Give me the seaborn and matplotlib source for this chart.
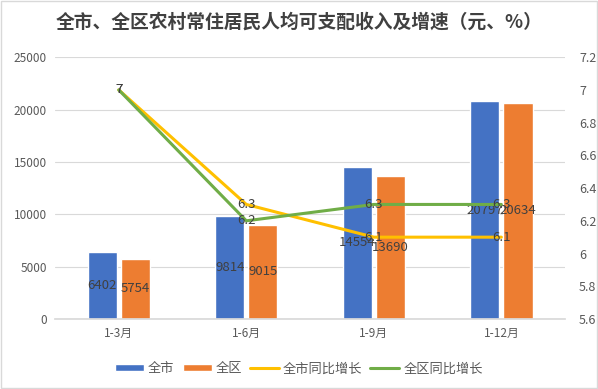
import pandas as pd
import numpy as np
import matplotlib.pyplot as plt
import seaborn as sns
from matplotlib.patches import Rectangle

# data
periods = ['1-3月', '1-6月', '1-9月', '1-12月']
city_income = [6402, 9814, 14554, 20797]
district_income = [5754, 9015, 13690, 20634]
city_growth = [7, 6.3, 6.1, 6.1]
district_growth = [7, 6.2, 6.3, 6.3]
bar_names = ['全市', '全区']
line_names = ['全市同比增长', '全区同比增长']

BLUE, ORANGE, YELLOW, GREEN = '#4472C4', '#ED7D31', '#FFC000', '#70AD47'
TXT = '#595959'

sns.set_theme(style='white')
plt.rcParams['font.family'] = ['Noto Sans CJK SC', 'DejaVu Sans']

df_bar = pd.DataFrame({
    'period': periods * 2,
    'series': [bar_names[0]] * 4 + [bar_names[1]] * 4,
    'value': city_income + district_income,
})
pos = list(range(len(periods)))
df_line = pd.DataFrame({
    'pos': pos * 2,
    'series': [line_names[0]] * 4 + [line_names[1]] * 4,
    'value': city_growth + district_growth,
})

fig = plt.figure(figsize=(5.98, 3.89), dpi=100)
ax = fig.add_axes([0.092, 0.18, 0.853, 0.673])

sns.barplot(data=df_bar, x='period', y='value', hue='series',
            palette=[BLUE, ORANGE], width=0.52, gap=0.12, ax=ax,
            saturation=1, legend=True)
for cont in ax.containers:
    for rect in cont:
        h = rect.get_height()
        ax.text(rect.get_x() + rect.get_width() / 2, h / 2, f'{h:.0f}',
                ha='center', va='center', fontsize=9.5, color='#404040')

ax.set_ylim(0, 25000)
ax.set_yticks(range(0, 25001, 5000))
ax.grid(axis='y', color='#D9D9D9', lw=0.8)
ax.set_axisbelow(True)
ax.set_xlabel('')
ax.set_ylabel('')
ax.set_xlim(-0.5, 3.5)
for s in ['left', 'right', 'top']:
    ax.spines[s].set_visible(False)
ax.spines['bottom'].set_color('#D9D9D9')
ax.tick_params(axis='both', colors=TXT, labelsize=8.5, length=0, pad=6)

ax2 = ax.twinx()
sns.lineplot(data=df_line, x='pos', y='value', hue='series',
             palette=[YELLOW, GREEN], lw=2.2, ax=ax2, legend=True)
for vals in [city_growth, district_growth]:
    for i, v in enumerate(vals):
        ax2.text(i, v, f'{v:g}', ha='center', va='center', fontsize=9.5,
                 color='#404040')
ax2.set_ylim(5.6, 7.2)
ticks = np.round(np.arange(5.6, 7.21, 0.2), 1)
ax2.set_yticks(ticks)
ax2.set_yticklabels([f'{t:g}' for t in ticks])
ax2.set_xlim(-0.5, 3.5)
ax2.set_xlabel('')
ax2.set_ylabel('')
for s in ['left', 'right', 'top', 'bottom']:
    ax2.spines[s].set_visible(False)
ax2.tick_params(axis='y', colors=TXT, labelsize=9, length=0, pad=10)

h1, l1 = ax.get_legend_handles_labels()
h2, l2 = ax2.get_legend_handles_labels()
ax.get_legend().remove()
ax2.get_legend().remove()
fig.legend(h1 + h2, l1 + l2, loc='center', bbox_to_anchor=(0.5, 0.052),
           ncol=4, frameon=False, fontsize=9.5, labelcolor=TXT,
           handlelength=2.2, handleheight=0.5, columnspacing=0.6,
           handletextpad=0.3)

fig.text(0.5, 0.942, '全市、全区农村常住居民人均可支配收入及增速（元、%）',
         ha='center', va='center', fontsize=13.5, fontweight='bold',
         color='#404040')
fig.patches.append(Rectangle((0.002, 0.003), 0.996, 0.994,
                             transform=fig.transFigure, fill=False,
                             edgecolor='#D9D9D9', lw=1))

fig.savefig('out.png', dpi=100)
